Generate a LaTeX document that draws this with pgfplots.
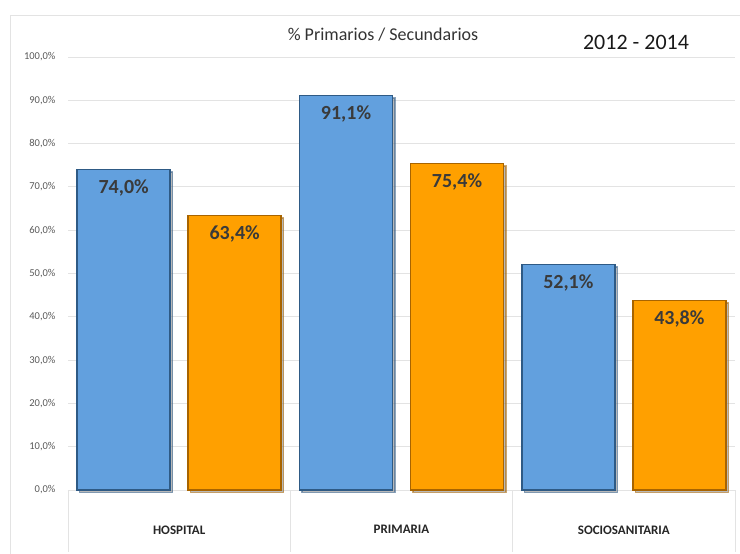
\documentclass[border=0pt]{standalone}
\usepackage{pgfplots}
\pgfplotsset{compat=1.18}
\usetikzlibrary{shadows}
\usepackage{fontspec}
\setmainfont{Carlito}
\definecolor{barblue}{HTML}{62A0DE}
\definecolor{barblueedge}{HTML}{2E5A85}
\definecolor{barorange}{HTML}{FFA000}
\definecolor{barorangeedge}{HTML}{A86400}
\definecolor{gridgray}{HTML}{E3E3E3}
\definecolor{labelgray}{HTML}{3A3A3A}
\definecolor{tickgray}{HTML}{595959}
\begin{document}
\begin{tikzpicture}[x=1pt,y=1pt]
\useasboundingbox (-68,-64) rectangle (672,490);
\draw[gridgray, line width=0.8pt] (-58,-80) -- (-58,475) -- (690,475);
\begin{axis}[
  at={(0,0)}, anchor=south west,
  scale only axis, width=667pt, height=433pt,
  ymin=0, ymax=100, ytick={0,10,...,100},
  xmin=-0.5, xmax=2.5,
  xtick={0,1,2}, xticklabels={HOSPITAL,PRIMARIA,SOCIOSANITARIA},
  major tick length=0pt,
  extra x ticks={-0.5,0.5,1.5,2.5}, extra x tick labels={},
  extra x tick style={major tick length=62pt, tick align=outside, tick style={gridgray, line width=0.8pt}},
  axis lines*=left,
  x axis line style={gridgray, line width=0.8pt},
  y axis line style={draw=none},
  ymajorgrids, grid style={gridgray, line width=0.8pt},
  /pgf/number format/assume math mode=true,
  yticklabel={\pgfmathprintnumber[fixed,fixed zerofill,precision=1,use comma]{\tick}\%},
  y tick label style={font=\fontsize{10.5}{12}\selectfont, text=tickgray, xshift=-9pt},
  x tick label style={font=\bfseries\fontsize{13}{14}\selectfont, text=black!85, yshift=-32pt},
  ybar=18pt, bar width=93pt,
  nodes near coords={\pgfmathprintnumber[fixed,fixed zerofill,precision=1,use comma]{\pgfplotspointmeta}\%},
  every node near coord/.append style={anchor=north, yshift=-6pt, font=\bfseries\fontsize{20}{22}\selectfont, text=labelgray},
  clip=false,
]
\addplot[fill=barblue, draw=barblueedge, line width=1.5pt, drop shadow={shadow xshift=2.5pt, shadow yshift=-2.5pt, opacity=0.55}] coordinates {(0,74.0) (1,91.1) (2,52.1)};
\addplot[fill=barorange, draw=barorangeedge, line width=1.5pt, drop shadow={shadow xshift=2.5pt, shadow yshift=-2.5pt, opacity=0.55}] coordinates {(0,63.4) (1,75.4) (2,43.8)};
\end{axis}
\node[font=\fontsize{18}{20}\selectfont, text=black!80] at (315,455) {\% Primarios / Secundarios};
\node[font=\fontsize{22}{24}\selectfont, text=black!90] at (568,448) {2012 - 2014};
\end{tikzpicture}
\end{document}
